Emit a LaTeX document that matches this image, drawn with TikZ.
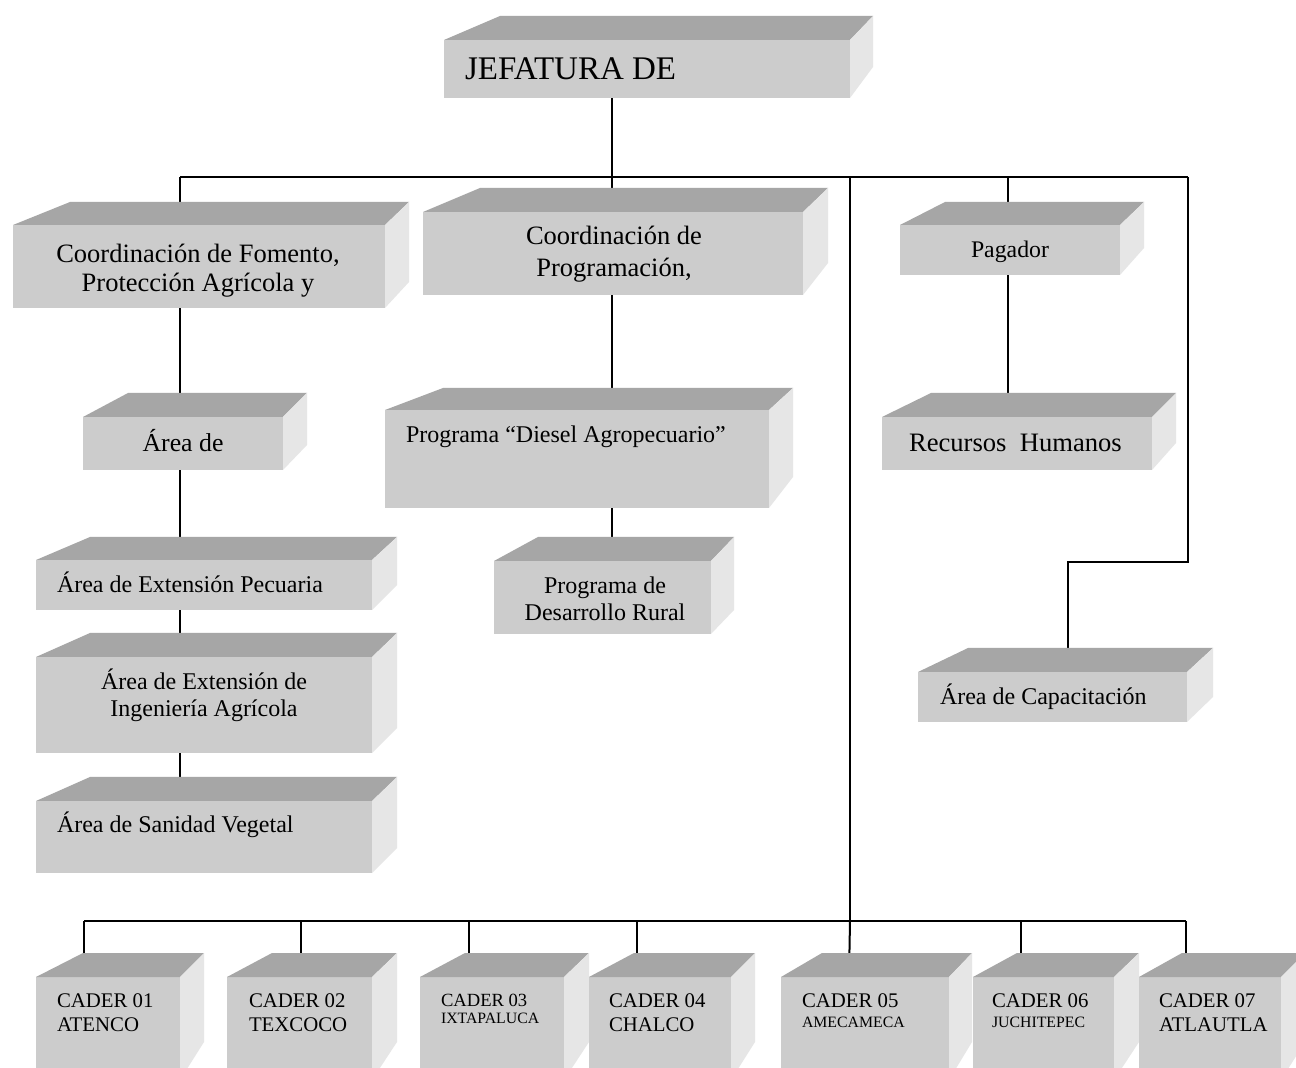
\documentclass[tikz,border=0pt]{standalone}
\usepackage{fontspec}
\setmainfont{Liberation Serif}
\usetikzlibrary{calc}
\pgfdeclarelayer{paper}
\pgfdeclarelayer{bg}
\pgfsetlayers{paper,bg,main}
\definecolor{frontc}{HTML}{CCCCCC}
\definecolor{topc}{HTML}{A6A6A6}
\definecolor{sidec}{HTML}{E6E6E6}
% name, x1, y1, x2, y2, back-left x, back-right x, top y, side bottom y
\newcommand{\cubo}[9]{%
  \node[front, minimum width={(#4-#2)*0.5pt}, minimum height={(#5-#3)*0.5pt}] (#1) at ({(#2+#4)/2},{(#3+#5)/2}) {};
  \fill[topc] (#1.north west) -- (#6,#8) -- (#7,#8) -- (#1.north east) -- cycle;
  \fill[sidec] (#1.north east) -- (#7,#8) -- (#7,#9) -- (#1.south east) -- cycle;
}
\begin{document}
\begin{tikzpicture}[x=0.5pt,y=-0.5pt,
  front/.style={rectangle, fill=frontc, draw=none, inner sep=0pt, outer sep=0pt},
  conn/.style={draw=black, line width=1pt},
  lbl/.style={inner sep=0pt, outer sep=0pt, text=black},
  fbig/.style={font=\fontsize{16.5}{19}\selectfont},
  fcoord/.style={font=\fontsize{13.25}{14.6}\selectfont},
  fmid/.style={font=\fontsize{12}{13.5}\selectfont},
  fcad/.style={font=\fontsize{10.4}{12}\selectfont},
  fsmall/.style={font=\fontsize{7.9}{9.5}\selectfont}]
\useasboundingbox (0,0) rectangle (1296,1068);
\clip (0,0) rectangle (1296,1068);
\begin{pgfonlayer}{paper}
\fill[white] (0,0) rectangle (1296,1068);
\end{pgfonlayer}

% boxes
\cubo{jef}{444}{40}{850}{98}{500}{873}{16}{67}
\cubo{cf}{13}{225}{385}{308}{70}{409}{202}{282}
\cubo{cp}{423}{212}{803}{295}{480}{828}{188}{263}
\cubo{pag}{900}{225}{1120}{275}{945}{1144}{202}{248}
\cubo{ar}{83}{417}{283}{470}{128}{307}{393}{445}
\cubo{die}{385}{410}{769}{508}{443}{793}{388}{477}
\cubo{rh}{882}{417}{1152}{470}{931}{1176}{393}{443}
\cubo{pec}{36}{560}{372}{610}{90}{397}{537}{585}
\cubo{dr}{494}{561}{711}{634}{538}{734}{537}{610}
\cubo{ing}{36}{657}{372}{753}{90}{397}{633}{728}
\cubo{cap}{918}{672}{1187}{722}{968}{1213}{648}{697}
\cubo{san}{36}{801}{372}{873}{90}{397}{777}{848}
\cubo{k1}{36}{977}{180}{1080}{83}{204}{953}{1042}
\cubo{k2}{227}{977}{372}{1080}{272}{397}{953}{1042}
\cubo{k3}{420}{977}{564}{1080}{465}{589}{953}{1042}
\cubo{k4}{589}{977}{731}{1080}{634}{755}{953}{1042}
\cubo{k5}{781}{977}{949}{1080}{822}{972}{953}{1042}
\cubo{k6}{973}{977}{1114}{1080}{1017}{1139}{953}{1042}
\cubo{k7}{1139}{977}{1281}{1080}{1182}{1305}{953}{1042}

% texts (for two-line labels, anchor=base sits on the last line)
\node[lbl, fbig, anchor=base west] (tjef) at (465,80) {JEFATURA DE};
\node[lbl, fcoord, anchor=base, align=center] (tcf) at (198,292) {Coordinación de Fomento,\\Protección Agrícola y};
\node[lbl, font=\fontsize{13.25}{16}\selectfont, anchor=base, align=center] (tcp) at (614,277) {Coordinación de\\Programación,};
\node[lbl, font=\fontsize{11.9}{14}\selectfont, anchor=base] (tpag) at (1010,258) {Pagador};
\node[lbl, font=\fontsize{12.9}{15}\selectfont, anchor=base] (tar) at (183,452) {Área de};
\node[lbl, fmid, anchor=base west] (tdie) at (406,443) {Programa “Diesel Agropecuario”};
\node[lbl, font=\fontsize{13.3}{15}\selectfont, anchor=base west] (trh) at (909,452) {Recursos\ \ Humanos};
\node[lbl, fmid, anchor=base west] (tpec) at (57,593) {Área de Extensión Pecuaria};
\node[lbl, fmid, anchor=base, align=center] (tdr) at (605,621) {Programa de\\Desarrollo Rural};
\node[lbl, fmid, anchor=base, align=center] (ting) at (204,717) {Área de Extensión de\\Ingeniería Agrícola};
\node[lbl, fmid, anchor=base west] (tcap) at (940,705) {Área de Capacitación};
\node[lbl, fmid, anchor=base west] (tsan) at (57,833) {Área de Sanidad Vegetal};

\node[lbl, fcad, anchor=base west] (tk1a) at (57,1007) {CADER 01};
\node[lbl, fcad, anchor=base west] (tk1b) at (57,1031) {ATENCO};
\node[lbl, fcad, anchor=base west] (tk2a) at (249,1007) {CADER 02};
\node[lbl, fcad, anchor=base west] (tk2b) at (249,1031) {TEXCOCO};
\node[lbl, font=\fontsize{9.3}{11}\selectfont, anchor=base west] (tk3a) at (441,1006) {CADER 03};
\node[lbl, fsmall, anchor=base west] (tk3b) at (441,1023) {IXTAPALUCA};
\node[lbl, fcad, anchor=base west] (tk4a) at (609,1007) {CADER 04};
\node[lbl, fcad, anchor=base west] (tk4b) at (609,1031) {CHALCO};
\node[lbl, fcad, anchor=base west] (tk5a) at (802,1007) {CADER 05};
\node[lbl, fsmall, anchor=base west] (tk5b) at (802,1027) {AMECAMECA};
\node[lbl, fcad, anchor=base west] (tk6a) at (992,1007) {CADER 06};
\node[lbl, fsmall, anchor=base west] (tk6b) at (992,1027) {JUCHITEPEC};
\node[lbl, fcad, anchor=base west] (tk7a) at (1159,1007) {CADER 07};
\node[lbl, fcad, anchor=base west] (tk7b) at (1159,1031) {ATLAUTLA};

% junction coordinates
\coordinate (j1) at (180,177);
\coordinate (j2) at (612,177);
\coordinate (j3) at (850,177);
\coordinate (j4) at (1008,177);
\coordinate (j5) at (1188,177);
\coordinate (kc) at (1068,562);
\coordinate (d1) at (84,921);
\coordinate (d2) at (301,921);
\coordinate (d3) at (469,921);
\coordinate (d4) at (637,921);
\coordinate (d5) at (850,921);
\coordinate (d6) at (1021,921);
\coordinate (d7) at (1186,921);

\begin{pgfonlayer}{bg}
\draw[conn] (j1) -- (j5);
\draw[conn] (j2 |- jef.south) -- (j2);
\draw[conn] (j1) -- (j1 |- cf.north);
\draw[conn] (j2) -- (j2 |- cp.north);
\draw[conn] (j4) -- (j4 |- pag.north);
\draw[conn] (j5) |- (kc) -- (kc |- cap.north);
\draw[conn] (j3) -- (d5);
\draw[conn] (j1 |- cf.south) -- (j1 |- ar.north);
\draw[conn] (j1 |- ar.south) -- (j1 |- pec.north);
\draw[conn] (j1 |- pec.south) -- (j1 |- ing.north);
\draw[conn] (j1 |- ing.south) -- (j1 |- san.north);
\draw[conn] (j2 |- cp.south) -- (j2 |- die.north);
\draw[conn] (j2 |- die.south) -- (j2 |- dr.north);
\draw[conn] (j4 |- pag.south) -- (j4 |- rh.north);
\draw[conn] (d1) -- (d7);
\draw[conn] (d1) -- (d1 |- k1.north);
\draw[conn] (d2) -- (d2 |- k2.north);
\draw[conn] (d3) -- (d3 |- k3.north);
\draw[conn] (d4) -- (d4 |- k4.north);
\draw[conn] (d5) -- ($(k5.north west)+(68,0)$);
\draw[conn] (d6) -- (d6 |- k6.north);
\draw[conn] (d7) -- (d7 |- k7.north);
\end{pgfonlayer}
\end{tikzpicture}
\end{document}
